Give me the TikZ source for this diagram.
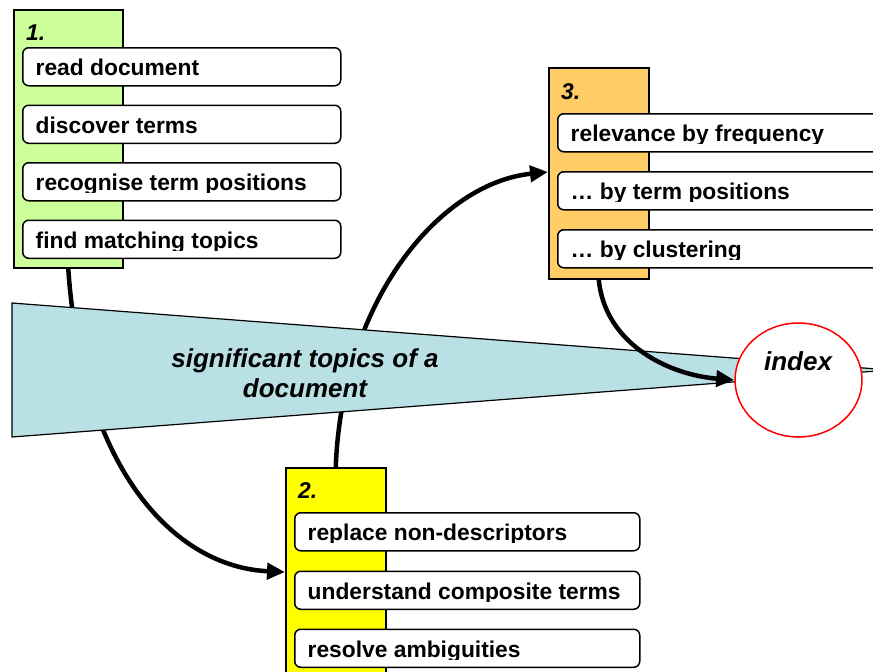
\documentclass[tikz,border=0pt]{standalone}
\usepackage{fontspec}
\setmainfont{Liberation Sans}
\usetikzlibrary{arrows.meta,shapes.geometric}
\definecolor{boxgreen}{RGB}{204,255,153}
\definecolor{boxorange}{RGB}{255,204,102}
\definecolor{boxyellow}{RGB}{255,255,0}
\definecolor{funnelblue}{RGB}{185,224,228}
\definecolor{idxred}{RGB}{255,0,0}
\pgfdeclarelayer{back}
\pgfsetlayers{back,main}
\newcommand{\stepitem}[5]{%
  \node[itembox,minimum width={(#4-#2)*1pt}] (#1) at (#2,#3) {};
  \begin{scope}
    \clip (#2,#3) rectangle (#4,#3+30.5);
    \node[itemtext] (#1-t) at (#2+13.5,#3+28.5) {#5};
  \end{scope}}
\begin{document}
\begin{tikzpicture}[x=1pt,y=-1pt,
  bigbox/.style={draw=black,line width=1.5pt,inner sep=0pt,anchor=north west},
  itembox/.style={draw=black,fill=white,line width=1.5pt,rounded corners=6pt,inner sep=0pt,anchor=north west,minimum height=38pt},
  itemtext/.style={inner sep=0pt,anchor=base west,font=\fontsize{22.8}{27}\selectfont\bfseries},
  numtext/.style={inner sep=0pt,anchor=base west,font=\fontsize{22.8}{27}\selectfont\bfseries\itshape},
  bigtext/.style={inner sep=0pt,font=\fontsize{26}{30}\selectfont\bfseries\itshape},
  flow/.style={line width=4.5pt,-{Triangle[length=18pt,width=16pt]}},
  funnel/.style={fill=funnelblue,draw=black,line width=1.2pt},
  indexshape/.style={draw=idxred,fill=white,line width=1.5pt,ellipse,minimum width=127pt,minimum height=114pt,inner sep=0pt}
]
\useasboundingbox (0,0) rectangle (873,672);

% stage boxes
\node[bigbox,fill=boxgreen,minimum width=109pt,minimum height=258pt] (box1) at (13,9) {};
\node[bigbox,fill=boxorange,minimum width=100pt,minimum height=211pt] (box3) at (548,67) {};
\node[bigbox,fill=boxyellow,minimum width=100pt,minimum height=230pt] (box2) at (285,467) {};

\node[numtext] (n1) at (26,40) {1.};
\node[numtext] (n3) at (561,99) {3.};
\node[numtext] (n2) at (298,498) {2.};

\stepitem{a1}{22}{47}{340}{read document}
\stepitem{a2}{22}{104.5}{340}{discover terms}
\stepitem{a3}{22}{162}{340}{recognise term positions}
\stepitem{a4}{22}{219.5}{340}{find matching topics}

\stepitem{c1}{557}{113}{885}{relevance by frequency}
\stepitem{c2}{557}{171}{885}{\ldots{} by term positions}
\stepitem{c3}{557}{229}{885}{\ldots{} by clustering}

\stepitem{b1}{294}{512}{639}{replace non-descriptors}
\stepitem{b2}{294}{570.5}{639}{understand composite terms}
\stepitem{b3}{294}{628.5}{639}{resolve ambiguities}

\coordinate (in2) at (285,572);
\coordinate (in3) at (548,172);

\begin{pgfonlayer}{back}
  \draw[flow] (box1.south) .. controls (82,470) and (175,567) .. (in2);
  \draw[flow] (box2.north) .. controls (342,300) and (440,183) .. (in3);
  \filldraw[funnel] (12,303) -- (890,370) -- (12,437) -- cycle;
\end{pgfonlayer}

\node[bigtext,align=center] (topic) at (305,373.5) {significant topics of a\\document};

\node[indexshape] (idx) at (798.5,380) {};
\node[bigtext,anchor=base] (idxt) at (798,370) {index};

\draw[flow] (box3.south) .. controls (605,345) and (670,375) .. (idx.west);
\end{tikzpicture}
\end{document}
